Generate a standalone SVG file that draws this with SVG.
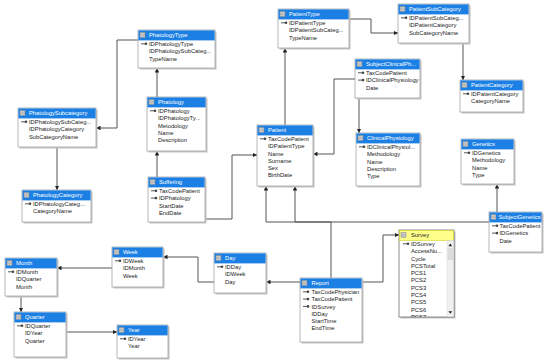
<svg xmlns="http://www.w3.org/2000/svg" xmlns:xlink="http://www.w3.org/1999/xlink" width="550" height="362" viewBox="0 0 550 362">
<style>
text{font-family:"Liberation Sans",Arial,sans-serif;font-size:5.8px}
.sh{fill:#c4c4c4}
.box{fill:#fff;stroke:#a6a6a6;stroke-width:0.8}
.hdr{fill:#1c7fe3}
.ht{fill:#fff}
.rt{fill:#222}
.ic{fill:#d0d0d0;stroke:#8a8a8a;stroke-width:0.5}
.c{fill:none;stroke:#555;stroke-width:1}
</style>
<defs>
<marker id="ar" viewBox="0 0 6 6" refX="6" refY="3" markerWidth="4.5" markerHeight="4.5" markerUnits="userSpaceOnUse" orient="auto"><path d="M0,0 L6,3 L0,6 z" fill="#222"/></marker>
<g id="key"><line x1="0" y1="0" x2="4" y2="0" stroke="#444" stroke-width="0.9"/><circle cx="5" cy="0" r="1.3" fill="#444"/></g>
<g id="tic"><rect x="0" y="0" width="5" height="5" class="ic"/><line x1="0" y1="1.7" x2="5" y2="1.7" stroke="#8a8a8a" stroke-width="0.4"/><line x1="0" y1="3.3" x2="5" y2="3.3" stroke="#8a8a8a" stroke-width="0.4"/></g>
<clipPath id="svc"><rect x="399" y="240" width="55" height="77"/></clipPath>
</defs>

<g id="connectors">
<path class="c" d="M138,40 H117 V128 H96" marker-end="url(#ar)"/>
<path class="c" d="M57,147 V190" marker-end="url(#ar)"/>
<path class="c" d="M157,97 V68" marker-end="url(#ar)"/>
<path class="c" d="M157,177 V151" marker-end="url(#ar)"/>
<path class="c" d="M205,219 H232 V155 H257" marker-end="url(#ar)"/>
<path class="c" d="M285,125 V48" marker-end="url(#ar)"/>
<path class="c" d="M349,19 H371 V33 H398" marker-end="url(#ar)"/>
<path class="c" d="M463,43 V80" marker-end="url(#ar)"/>
<path class="c" d="M355,79 H334 V154 H313" marker-end="url(#ar)"/>
<path class="c" d="M359,98 V133" marker-end="url(#ar)"/>
<path class="c" d="M497,212 V184" marker-end="url(#ar)"/>
<path class="c" d="M489,222 H266 V186" marker-end="url(#ar)"/>
<path class="c" d="M331,278 V222 H295 V186" marker-end="url(#ar)"/>
<path class="c" d="M362,282 H383 V235 H399" marker-end="url(#ar)"/>
<path class="c" d="M300,282 H266" marker-end="url(#ar)"/>
<path class="c" d="M214,282 H198 V257 H163" marker-end="url(#ar)"/>
<path class="c" d="M112,268 H57" marker-end="url(#ar)"/>
<path class="c" d="M21,296 V312" marker-end="url(#ar)"/>
<path class="c" d="M66,332 H117" marker-end="url(#ar)"/>
</g>

<g id="PhatologySubcategory">
<rect class="sh" x="19.5" y="109.5" width="78" height="39"/><rect class="box" x="18" y="108" width="78" height="39"/>
<rect class="hdr" x="18.4" y="108.4" width="77.2" height="10"/><use href="#tic" x="20" y="110.5"/>
<text class="ht" x="29" y="115.4">PhatologySubcategory</text>
<use href="#key" x="21" y="121.8"/>
<text class="rt" x="29" y="123.9">IDPhatologySubCateg...</text>
<text class="rt" x="29" y="131.2">IDPhatologyCategory</text>
<text class="rt" x="29" y="138.5">SubCategoryName</text>
</g>

<g id="PhatologyCategory">
<rect class="sh" x="23.5" y="191.5" width="69" height="32"/><rect class="box" x="22" y="190" width="69" height="32"/>
<rect class="hdr" x="22.4" y="190.4" width="68.2" height="10"/><use href="#tic" x="24" y="192.5"/>
<text class="ht" x="33" y="197.4">PhatologyCategory</text>
<use href="#key" x="25" y="203.8"/>
<text class="rt" x="33" y="205.9">IDPhatologyCateg...</text>
<text class="rt" x="33" y="213.2">CategoryName</text>
</g>

<g id="PhatologyType">
<rect class="sh" x="139.5" y="31.5" width="77" height="38"/><rect class="box" x="138" y="30" width="77" height="38"/>
<rect class="hdr" x="138.4" y="30.4" width="76.2" height="10"/><use href="#tic" x="140" y="32.5"/>
<text class="ht" x="149" y="37.4">PhatologyType</text>
<use href="#key" x="141" y="43.8"/>
<text class="rt" x="149" y="45.9">IDPhatologyType</text>
<text class="rt" x="149" y="53.2">IDPhatologySubCateg...</text>
<text class="rt" x="149" y="60.5">TypeName</text>
</g>

<g id="Phatology">
<rect class="sh" x="148.5" y="98.5" width="59" height="54"/><rect class="box" x="147" y="97" width="59" height="54"/>
<rect class="hdr" x="147.4" y="97.4" width="58.2" height="10"/><use href="#tic" x="149" y="99.5"/>
<text class="ht" x="158" y="104.4">Phatology</text>
<use href="#key" x="150" y="110.8"/>
<text class="rt" x="158" y="112.9">IDPhatology</text>
<text class="rt" x="158" y="120.2">IDPhatologyTy...</text>
<text class="rt" x="158" y="127.5">Metodology</text>
<text class="rt" x="158" y="134.8">Name</text>
<text class="rt" x="158" y="142.1">Description</text>
</g>

<g id="Suffering">
<rect class="sh" x="149.5" y="178.5" width="57" height="45"/><rect class="box" x="148" y="177" width="57" height="45"/>
<rect class="hdr" x="148.4" y="177.4" width="56.2" height="10"/><use href="#tic" x="150" y="179.5"/>
<text class="ht" x="159" y="184.4">Suffering</text>
<use href="#key" x="151" y="190.8"/><use href="#key" x="151" y="198.1"/>
<text class="rt" x="159" y="192.9">TaxCodePatient</text>
<text class="rt" x="159" y="200.2">IDPhatology</text>
<text class="rt" x="159" y="207.5">StartDate</text>
<text class="rt" x="159" y="214.8">EndDate</text>
</g>

<g id="Patient">
<rect class="sh" x="258.5" y="126.5" width="56" height="61"/><rect class="box" x="257" y="125" width="56" height="61"/>
<rect class="hdr" x="257.4" y="125.4" width="55.2" height="10"/><use href="#tic" x="259" y="127.5"/>
<text class="ht" x="268" y="132.4">Patient</text>
<use href="#key" x="260" y="138.8"/>
<text class="rt" x="268" y="140.9">TaxCodePatient</text>
<text class="rt" x="268" y="148.2">IDPatientType</text>
<text class="rt" x="268" y="155.5">Name</text>
<text class="rt" x="268" y="162.8">Surname</text>
<text class="rt" x="268" y="170.1">Sex</text>
<text class="rt" x="268" y="177.4">BirthDate</text>
</g>

<g id="PatientType">
<rect class="sh" x="279.5" y="10.5" width="71" height="39"/><rect class="box" x="278" y="9" width="71" height="39"/>
<rect class="hdr" x="278.4" y="9.4" width="70.2" height="10"/><use href="#tic" x="280" y="11.5"/>
<text class="ht" x="289" y="16.4">PatientType</text>
<use href="#key" x="281" y="22.8"/>
<text class="rt" x="289" y="24.9">IDPatientType</text>
<text class="rt" x="289" y="32.2">IDPatientSubCateg...</text>
<text class="rt" x="289" y="39.5">TypeName</text>
</g>

<g id="PatientSubCategory">
<rect class="sh" x="399.5" y="5.5" width="71" height="39"/><rect class="box" x="398" y="4" width="71" height="39"/>
<rect class="hdr" x="398.4" y="4.4" width="70.2" height="10"/><use href="#tic" x="400" y="6.5"/>
<text class="ht" x="409" y="11.4">PatientSubCategory</text>
<use href="#key" x="401" y="17.8"/>
<text class="rt" x="409" y="19.9">IDPatientSubCateg...</text>
<text class="rt" x="409" y="27.2">IDPatientCategory</text>
<text class="rt" x="409" y="34.5">SubCategoryName</text>
</g>

<g id="PatientCategory">
<rect class="sh" x="461.5" y="81.5" width="63" height="32"/><rect class="box" x="460" y="80" width="63" height="32"/>
<rect class="hdr" x="460.4" y="80.4" width="62.2" height="10"/><use href="#tic" x="462" y="82.5"/>
<text class="ht" x="471" y="87.4">PatientCategory</text>
<use href="#key" x="463" y="93.8"/>
<text class="rt" x="471" y="95.9">IDPatientCategory</text>
<text class="rt" x="471" y="103.2">CategoryName</text>
</g>

<g id="SubjectClinicalPhysiology">
<rect class="sh" x="356.5" y="60.5" width="65" height="39"/><rect class="box" x="355" y="59" width="65" height="39"/>
<rect class="hdr" x="355.4" y="59.4" width="64.2" height="10"/><use href="#tic" x="357" y="61.5"/>
<text class="ht" x="366" y="66.4">SubjectClinicalPh...</text>
<use href="#key" x="358" y="72.8"/><use href="#key" x="358" y="80.1"/>
<text class="rt" x="366" y="74.9">TaxCodePatient</text>
<text class="rt" x="366" y="82.2">IDClinicalPhysiology</text>
<text class="rt" x="366" y="89.5">Date</text>
</g>

<g id="ClinicalPhysiology">
<rect class="sh" x="357.5" y="134.5" width="64" height="53"/><rect class="box" x="356" y="133" width="64" height="53"/>
<rect class="hdr" x="356.4" y="133.4" width="63.2" height="10"/><use href="#tic" x="358" y="135.5"/>
<text class="ht" x="367" y="140.4">ClinicalPhysiology</text>
<use href="#key" x="359" y="146.8"/>
<text class="rt" x="367" y="148.9">IDClinicalPhysiol...</text>
<text class="rt" x="367" y="156.2">Methodology</text>
<text class="rt" x="367" y="163.5">Name</text>
<text class="rt" x="367" y="170.8">Description</text>
<text class="rt" x="367" y="178.1">Type</text>
</g>

<g id="Genetics">
<rect class="sh" x="462.5" y="140.5" width="53" height="45"/><rect class="box" x="461" y="139" width="53" height="45"/>
<rect class="hdr" x="461.4" y="139.4" width="52.2" height="10"/><use href="#tic" x="463" y="141.5"/>
<text class="ht" x="472" y="146.4">Genetics</text>
<use href="#key" x="464" y="152.8"/>
<text class="rt" x="472" y="154.9">IDGenetics</text>
<text class="rt" x="472" y="162.2">Methodology</text>
<text class="rt" x="472" y="169.5">Name</text>
<text class="rt" x="472" y="176.8">Type</text>
</g>

<g id="SubjectGenetics">
<rect class="sh" x="490.5" y="213.5" width="53" height="40"/><rect class="box" x="489" y="212" width="53" height="40"/>
<rect class="hdr" x="489.4" y="212.4" width="52.2" height="10"/><use href="#tic" x="491" y="214.5"/>
<text class="ht" x="498.5" y="219.4" font-size="5.6">SubjectGenetics</text>
<use href="#key" x="492" y="225.8"/><use href="#key" x="492" y="233.1"/>
<text class="rt" x="499.5" y="227.9">TaxCodePatient</text>
<text class="rt" x="499.5" y="235.2">IDGenetics</text>
<text class="rt" x="499.5" y="242.5">Date</text>
</g>

<g id="Survey">
<rect class="sh" x="400.5" y="231.5" width="55" height="87"/><rect x="399" y="230" width="55" height="87" fill="#fff" stroke="#707070" stroke-width="0.8"/>
<rect x="399.4" y="230.4" width="54.2" height="10" fill="#ffff8a" stroke="#c8c800" stroke-width="0.5"/><use href="#tic" x="401" y="232.5"/>
<text class="rt" x="411" y="237.4">Survey</text>
<g clip-path="url(#svc)">
<use href="#key" x="403" y="243.8"/>
<text class="rt" x="411" y="245.9">IDSurvey</text>
<text class="rt" x="411" y="253.2">AccessNu...</text>
<text class="rt" x="411" y="260.5">Cycle</text>
<text class="rt" x="411" y="267.8">PCSTotal</text>
<text class="rt" x="411" y="275.1">PCS1</text>
<text class="rt" x="411" y="282.4">PCS2</text>
<text class="rt" x="411" y="289.7">PCS3</text>
<text class="rt" x="411" y="297.0">PCS4</text>
<text class="rt" x="411" y="304.3">PCS5</text>
<text class="rt" x="411" y="311.6">PCS6</text>
<text class="rt" x="411" y="318.9">PCS7</text>
</g>
<rect x="447" y="240.5" width="6.6" height="76" fill="#f0f0f0" stroke="#d0d0d0" stroke-width="0.4"/>
<rect x="447.5" y="248" width="5.6" height="12" fill="#dcdcdc"/>
<path d="M448.4,246.2 L450.3,243.6 L452.2,246.2 z" fill="#222"/>
<path d="M448.4,311.2 L450.3,313.8 L452.2,311.2 z" fill="#222"/>
</g>

<g id="Report">
<rect class="sh" x="301.5" y="279.5" width="62" height="64"/><rect class="box" x="300" y="278" width="62" height="64"/>
<rect class="hdr" x="300.4" y="278.4" width="61.2" height="10"/><use href="#tic" x="302" y="280.5"/>
<text class="ht" x="311.5" y="285.4">Report</text>
<use href="#key" x="303" y="291.8"/><use href="#key" x="303" y="299.1"/><use href="#key" x="303" y="306.4"/>
<text class="rt" x="311.5" y="293.9">TaxCodePhysician</text>
<text class="rt" x="311.5" y="301.2">TaxCodePatient</text>
<text class="rt" x="311.5" y="308.5">IDSurvey</text>
<text class="rt" x="311.5" y="315.8">IDDay</text>
<text class="rt" x="311.5" y="323.1">StartTime</text>
<text class="rt" x="311.5" y="330.4">EndTime</text>
</g>

<g id="Day">
<rect class="sh" x="215.5" y="254.5" width="52" height="40"/><rect class="box" x="214" y="253" width="52" height="40"/>
<rect class="hdr" x="214.4" y="253.4" width="51.2" height="10"/><use href="#tic" x="216" y="255.5"/>
<text class="ht" x="225" y="260.4">Day</text>
<use href="#key" x="217" y="266.8"/>
<text class="rt" x="225" y="268.9">IDDay</text>
<text class="rt" x="225" y="276.2">IDWeek</text>
<text class="rt" x="225" y="283.5">Day</text>
</g>

<g id="Week">
<rect class="sh" x="113.5" y="248.5" width="51" height="40"/><rect class="box" x="112" y="247" width="51" height="40"/>
<rect class="hdr" x="112.4" y="247.4" width="50.2" height="10"/><use href="#tic" x="114" y="249.5"/>
<text class="ht" x="123" y="254.4">Week</text>
<use href="#key" x="115" y="260.8"/>
<text class="rt" x="123" y="262.9">IDWeek</text>
<text class="rt" x="123" y="270.2">IDMonth</text>
<text class="rt" x="123" y="277.5">Week</text>
</g>

<g id="Month">
<rect class="sh" x="6.5" y="259.5" width="52" height="38"/><rect class="box" x="5" y="258" width="52" height="38"/>
<rect class="hdr" x="5.4" y="258.4" width="51.2" height="10"/><use href="#tic" x="7" y="260.5"/>
<text class="ht" x="16" y="265.4">Month</text>
<use href="#key" x="8" y="271.8"/>
<text class="rt" x="16" y="273.9">IDMonth</text>
<text class="rt" x="16" y="281.2">IDQuarter</text>
<text class="rt" x="16" y="288.5">Month</text>
</g>

<g id="Quarter">
<rect class="sh" x="15.5" y="313.5" width="52" height="45"/><rect class="box" x="14" y="312" width="52" height="45"/>
<rect class="hdr" x="14.4" y="312.4" width="51.2" height="10"/><use href="#tic" x="16" y="314.5"/>
<text class="ht" x="25" y="319.4">Quarter</text>
<use href="#key" x="17" y="325.8"/>
<text class="rt" x="25" y="327.9">IDQuarter</text>
<text class="rt" x="25" y="335.2">IDYear</text>
<text class="rt" x="25" y="342.5">Quarter</text>
</g>

<g id="Year">
<rect class="sh" x="118.5" y="326.5" width="51" height="33"/><rect class="box" x="117" y="325" width="51" height="33"/>
<rect class="hdr" x="117.4" y="325.4" width="50.2" height="10"/><use href="#tic" x="119" y="327.5"/>
<text class="ht" x="128" y="332.4">Year</text>
<use href="#key" x="120" y="338.8"/>
<text class="rt" x="128" y="340.9">IDYear</text>
<text class="rt" x="128" y="348.2">Year</text>
</g>
</svg>
